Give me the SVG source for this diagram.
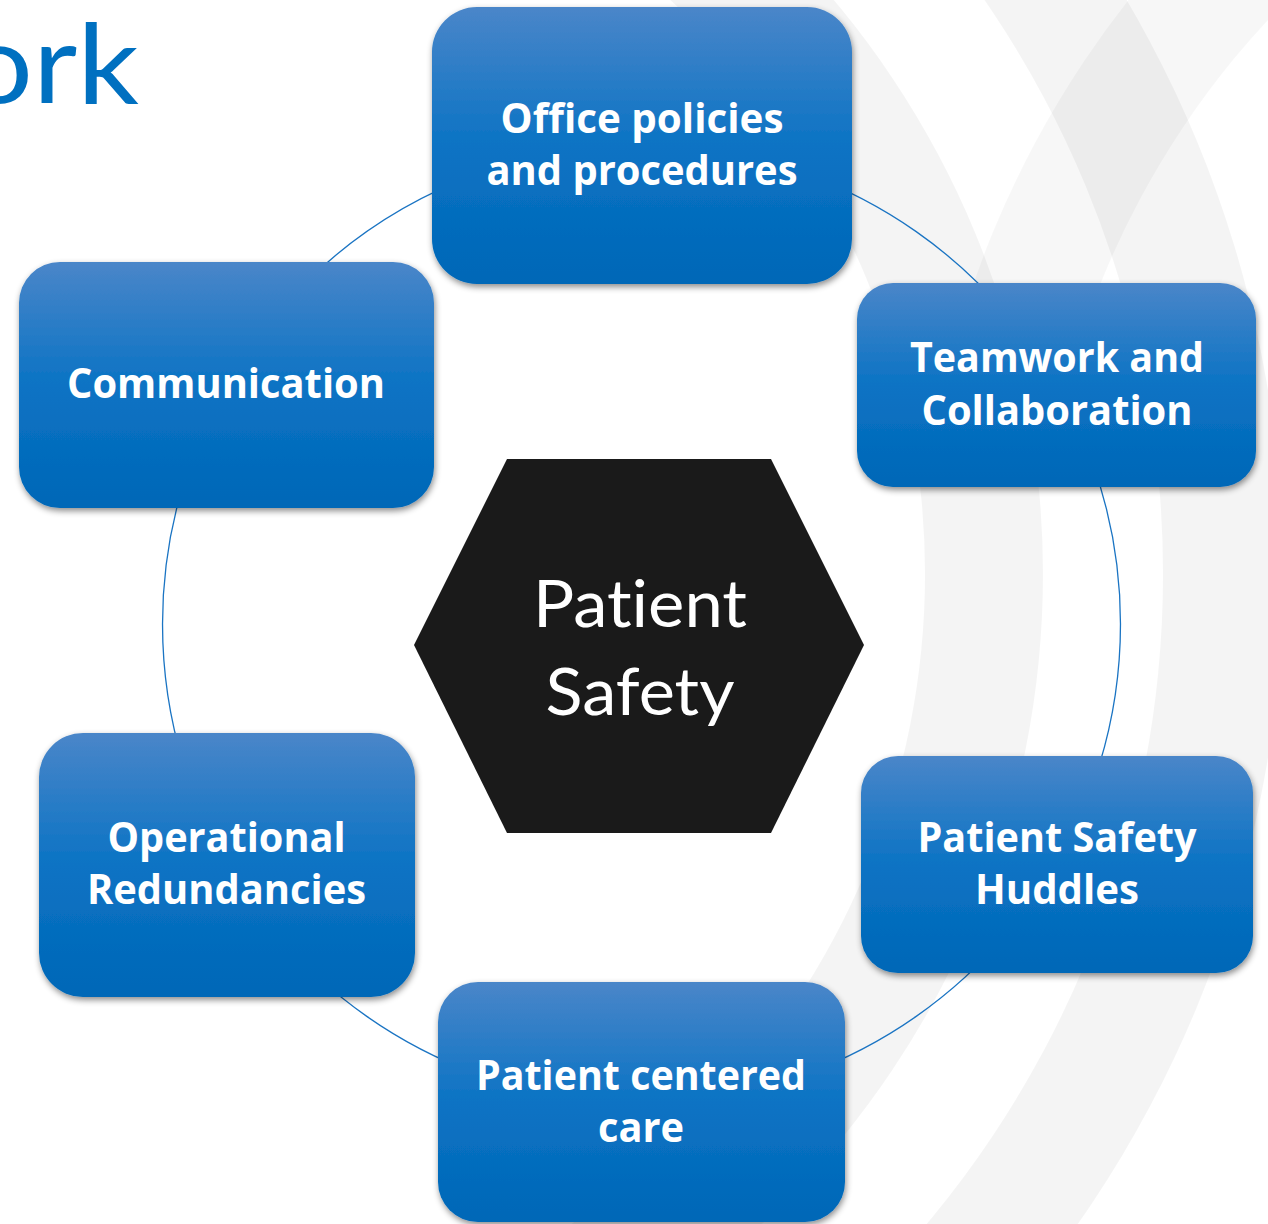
<svg xmlns="http://www.w3.org/2000/svg" width="1268" height="1224" viewBox="0 0 1268 1224">
  <defs>
    <linearGradient id="boxFill" x1="0" y1="0" x2="0" y2="1">
      <stop offset="0" stop-color="#4a86c9"/>
      <stop offset="0.5" stop-color="#0b73c4"/>
      <stop offset="1" stop-color="#0067b7"/>
    </linearGradient>
    <filter id="boxShadow" x="-10%" y="-10%" width="120%" height="130%">
      <feDropShadow dx="1" dy="3" stdDeviation="3" flood-color="#000" flood-opacity="0.45"/>
    </filter>
    <!-- the crossing band ends under the Teamwork box -->
    <clipPath id="upperBand">
      <rect x="0" y="0" width="1268" height="440"/>
    </clipPath>
  </defs>
  <style>
    .box { fill: url(#boxFill); filter: url(#boxShadow); }
    .label { font-family: "Open Sans", Lato, "Liberation Sans", sans-serif; font-weight: 700; font-size: 42px; fill: #ffffff; text-anchor: middle; font-variant-ligatures: none; }
    .hub-label { font-family: Lato, "Open Sans", "Liberation Sans", sans-serif; font-weight: 400; font-size: 66px; fill: #ffffff; text-anchor: middle; font-variant-ligatures: none; }
    .title { font-family: Lato, "Open Sans", "Liberation Sans", sans-serif; font-weight: 400; font-size: 110px; fill: #0070c0; }
    .link { fill: none; stroke: #1a74c3; stroke-width: 1.3; }
    .ring { fill: #000000; fill-opacity: 0.045; fill-rule: evenodd; }
    .ring-cross { fill: #000000; fill-opacity: 0.03; fill-rule: evenodd; }
  </style>

  <rect x="0" y="0" width="1268" height="1224" fill="#ffffff"/>

  <!-- faint background swooshes -->
  <g id="background">
    <path class="ring" d="M 1043 574 A 892 892 0 1 1 -741 574 A 892 892 0 1 1 1043 574 Z M 925 574 A 774 774 0 1 1 -623 574 A 774 774 0 1 1 925 574 Z"/>
    <path class="ring" d="M 1283 574 A 1132 1132 0 1 1 -981 574 A 1132 1132 0 1 1 1283 574 Z M 1163 574 A 1012 1012 0 1 1 -861 574 A 1012 1012 0 1 1 1163 574 Z"/>
    <path class="ring-cross" clip-path="url(#upperBand)" d="M 919 606 A 980 980 0 1 1 2879 606 A 980 980 0 1 1 919 606 Z M 1038 606 A 861 861 0 1 1 2760 606 A 861 861 0 1 1 1038 606 Z"/>
  </g>

  <!-- page title fragment -->
  <text class="title" x="-36" y="103" textLength="175" lengthAdjust="spacingAndGlyphs">ork</text>

  <!-- circular connectors between neighbouring boxes -->
  <g id="connectors">
    <path class="link" d="M 805.3 173.9 A 479 479 0 0 1 1008.4 316.1"/>
    <path class="link" d="M 1091.6 460.2 A 479 479 0 0 1 1091.6 787.8"/>
    <path class="link" d="M 1008.4 931.9 A 479 479 0 0 1 805.3 1074.1"/>
    <path class="link" d="M 477.7 1074.1 A 479 479 0 0 1 274.6 931.9"/>
    <path class="link" d="M 191.4 787.8 A 479 479 0 0 1 191.4 460.2"/>
    <path class="link" d="M 302.8 285.3 A 479 479 0 0 1 477.7 173.9"/>
  </g>

  <g id="hub">
    <polygon points="507,459 771,459 864,645 771,833 507,833 414,645" fill="#1a1a1a"/>
    <text class="hub-label" x="640" y="627" textLength="214" lengthAdjust="spacingAndGlyphs">Patient</text>
    <text class="hub-label" x="640" y="715" textLength="189" lengthAdjust="spacingAndGlyphs">Safety</text>
  </g>

  <g id="office-policies">
    <rect class="box" x="432" y="7" width="420" height="277" rx="45" ry="45"/>
    <text class="label" x="642" y="133" textLength="283" lengthAdjust="spacingAndGlyphs">Office policies</text>
    <text class="label" x="642" y="185" textLength="311" lengthAdjust="spacingAndGlyphs">and procedures</text>
  </g>

  <g id="teamwork">
    <rect class="box" x="857" y="283" width="399" height="204" rx="36" ry="36"/>
    <text class="label" x="1057" y="372" textLength="294" lengthAdjust="spacingAndGlyphs">Teamwork and</text>
    <text class="label" x="1057" y="425" textLength="271" lengthAdjust="spacingAndGlyphs">Collaboration</text>
  </g>

  <g id="communication">
    <rect class="box" x="19" y="262" width="415" height="246" rx="41" ry="41"/>
    <text class="label" x="226" y="398" textLength="318" lengthAdjust="spacingAndGlyphs">Communication</text>
  </g>

  <g id="operational-redundancies">
    <rect class="box" x="39" y="733" width="376" height="264" rx="44" ry="44"/>
    <text class="label" x="226.5" y="852" textLength="238" lengthAdjust="spacingAndGlyphs">Operational</text>
    <text class="label" x="226.5" y="904" textLength="279" lengthAdjust="spacingAndGlyphs">Redundancies</text>
  </g>

  <g id="safety-huddles">
    <rect class="box" x="861" y="756" width="392" height="217" rx="37" ry="37"/>
    <text class="label" x="1057" y="852" textLength="279" lengthAdjust="spacingAndGlyphs">Patient Safety</text>
    <text class="label" x="1057" y="904" textLength="164" lengthAdjust="spacingAndGlyphs">Huddles</text>
  </g>

  <g id="patient-centered-care">
    <rect class="box" x="438" y="982" width="407" height="240" rx="40" ry="40"/>
    <text class="label" x="641" y="1090" textLength="330" lengthAdjust="spacingAndGlyphs">Patient centered</text>
    <text class="label" x="641" y="1142" textLength="86" lengthAdjust="spacingAndGlyphs">care</text>
  </g>
</svg>
